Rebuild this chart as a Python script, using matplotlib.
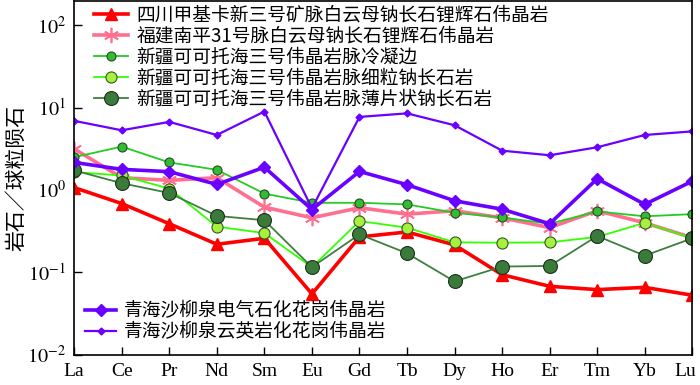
import matplotlib.pyplot as plt
import matplotlib.transforms as mtransforms
import numpy as np

plt.rcParams['font.family'] = ['Liberation Serif', 'Noto Sans CJK SC']
plt.rcParams['mathtext.fontset'] = 'stix'

elements = ['La', 'Ce', 'Pr', 'Nd', 'Sm', 'Eu', 'Gd', 'Tb', 'Dy', 'Ho', 'Er', 'Tm', 'Yb', 'Lu']

sichuan = [1.07, 0.685, 0.39, 0.22, 0.26, 0.055, 0.27, 0.31, 0.216, 0.094, 0.068, 0.062, 0.066, 0.053]
fujian = [3.15, 1.41, 1.31, 1.41, 0.62, 0.46, 0.61, 0.51, 0.56, 0.46, 0.35, 0.56, 0.40, 0.264]
xj_chill = [2.5, 3.36, 2.16, 1.76, 0.905, 0.70, 0.70, 0.67, 0.53, 0.465, 0.39, 0.55, 0.48, 0.51]
xj_fine = [1.65, 1.50, 1.04, 0.36, 0.30, 0.116, 0.42, 0.35, 0.232, 0.23, 0.232, 0.27, 0.40, 0.26]
xj_platy = [1.73, 1.21, 0.92, 0.486, 0.43, 0.116, 0.29, 0.171, 0.078, 0.118, 0.12, 0.277, 0.16, 0.26]
qh_tourm = [2.16, 1.78, 1.67, 1.17, 1.89, 0.58, 1.68, 1.16, 0.74, 0.585, 0.39, 1.37, 0.67, 1.28]
qh_greisen = [6.9, 5.3, 6.7, 4.65, 8.95, 0.60, 7.7, 8.5, 6.1, 3.0, 2.64, 3.3, 4.65, 5.14]

labels1 = ['四川甲基卡新三号矿脉白云母钠长石锂辉石伟晶岩',
           '福建南平31号脉白云母钠长石锂辉石伟晶岩',
           '新疆可可托海三号伟晶岩脉冷凝边',
           '新疆可可托海三号伟晶岩脉细粒钠长石岩',
           '新疆可可托海三号伟晶岩脉薄片状钠长石岩']
labels2 = ['青海沙柳泉电气石化花岗伟晶岩', '青海沙柳泉云英岩化花岗伟晶岩']

x = np.arange(len(elements))

fig = plt.figure(figsize=(7, 3.85), dpi=100)
ax = fig.add_axes([0.106, 0.078, 0.883, 0.919])

h1 = []
h1 += ax.plot(x, sichuan, color='#ff0000', lw=2.6, marker='^', ms=8, mec='#ff0000')
h1 += ax.plot(x, fujian, color='#ff7090', lw=2.6, marker=(6, 2, 0), ms=11, mew=1.2, mec='#ff7090')
h1 += ax.plot(x, xj_chill, color='#22cc22', lw=1.3, marker='o', ms=6.5,
              mfc='#33bb33', mec='#1f4f1f', mew=0.8)
h1 += ax.plot(x, xj_fine, color='#33ff00', lw=1.3, marker='o', ms=8,
              mfc='#a6f040', mec='#335522', mew=0.8)
h1 += ax.plot(x, xj_platy, color='#3f7f3f', lw=1.3, marker='o', ms=10,
              mfc='#3a7a3a', mec='#1a331a', mew=0.8)
h2 = []
h2 += ax.plot(x, qh_tourm, color='#6a00ff', lw=2.6, marker='D', ms=6.5, mec='#6a00ff')
h2 += ax.plot(x, qh_greisen, color='#6a00ff', lw=1.6, marker='D', ms=3.5, mec='#6a00ff')

ax.set_yscale('log')
ax.set_ylim(0.01, 195)
ax.set_xlim(0, len(elements) - 1)
ax.set_xticks(x)
ax.set_xticklabels(elements, fontsize=14)
ax.set_yticks([0.01, 0.1, 1, 10, 100])
ax.set_yticklabels([r'$10^{-2}$', r'$10^{-1}$', r'$10^{0}$', r'$10^{1}$', r'$10^{2}$'], fontsize=14.5)
ax.yaxis.set_minor_locator(plt.NullLocator())
ax.tick_params(direction='in', length=6, width=1, top=False, right=False)
ax.tick_params(axis='x', pad=6)
ax.tick_params(axis='y', pad=6)
for s in ax.spines.values():
    s.set_linewidth(1.2)

# last label sits at the right edge, nudge it in
last = ax.get_xticklabels()[-1]
last.set_transform(last.get_transform() + mtransforms.ScaledTranslation(-5 / 72, 0, fig.dpi_scale_trans))

ax.set_ylabel('岩石／球粒陨石', fontsize=15, family=['Noto Sans CJK SC', 'DejaVu Sans'], labelpad=0)

leg_font = {'family': ['Noto Sans CJK SC'], 'size': 13.5}
leg1 = ax.legend(h1, labels1, loc='upper left', bbox_to_anchor=(0.032, 0.99), frameon=False,
                 prop=leg_font, handlelength=1.8, handletextpad=0.45, labelspacing=0.0,
                 borderaxespad=0, borderpad=0)
ax.add_artist(leg1)
ax.legend(h2, labels2, loc='lower left', bbox_to_anchor=(0.018, 0.035), frameon=False,
          prop=leg_font, handlelength=1.65, handletextpad=0.42, labelspacing=0.0,
          borderaxespad=0, borderpad=0)

fig.savefig('out.png', dpi=100)
